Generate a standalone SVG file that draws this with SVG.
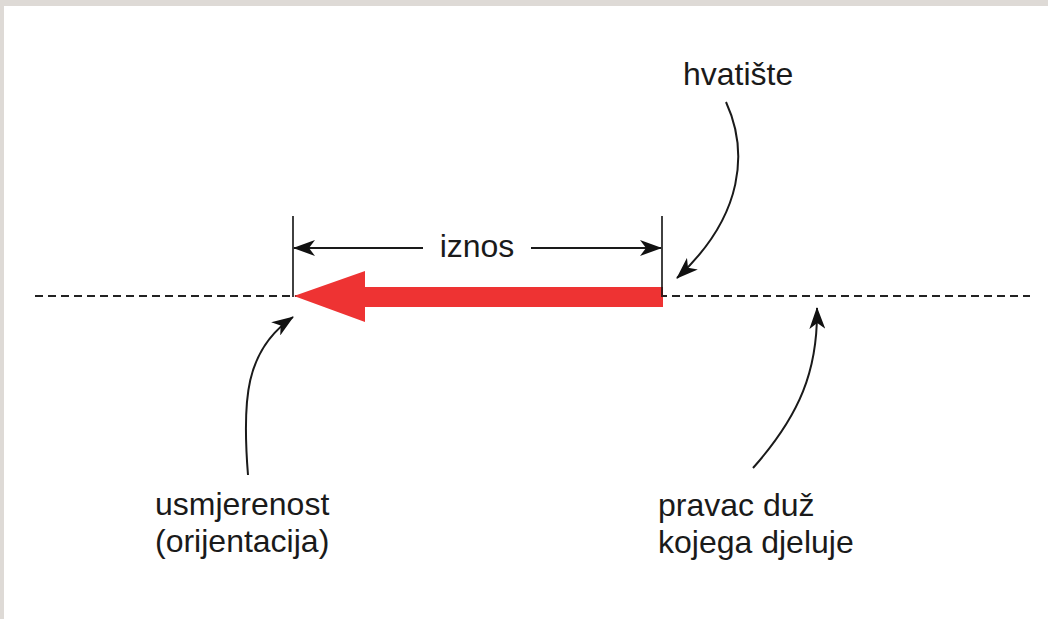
<svg xmlns="http://www.w3.org/2000/svg" width="1048" height="619" viewBox="0 0 1048 619">
<defs>
<style>
.t{font-family:"Liberation Sans",Arial,sans-serif;font-size:32px;fill:#1a1a1a}
.c{fill:none;stroke:#1a1a1a;stroke-width:2}
</style>
<marker id="ah" viewBox="0 0 22 16" refX="21" refY="8" markerWidth="22" markerHeight="16" markerUnits="userSpaceOnUse" orient="auto">
<path d="M0,0 L22,8 L0,16 L6,8 Z" fill="#111"/>
</marker>
</defs>
<rect x="0" y="0" width="1048" height="619" fill="#dedad6"/>
<rect x="4" y="6" width="1044" height="613" fill="#fff"/>
<g id="line-of-action">
<line x1="35" y1="296" x2="1030" y2="296" stroke="#222" stroke-width="1.8" stroke-dasharray="8,5"/>
</g>
<g id="force-vector">
<polygon points="294,296 365,271 365,287 663,287 663,307 365,307 365,322" fill="#ee3333"/>
</g>
<g id="dimension">
<line x1="293" y1="216" x2="293" y2="297" stroke="#111" stroke-width="1.6"/>
<line x1="662" y1="216" x2="662" y2="297" stroke="#111" stroke-width="1.6"/>
<line x1="423" y1="248" x2="294" y2="248" class="c" marker-end="url(#ah)"/>
<line x1="531" y1="248" x2="661" y2="248" class="c" marker-end="url(#ah)"/>
<text class="t" x="477" y="257" text-anchor="middle">iznos</text>
</g>
<g id="connectors">
<path class="c" d="M726,102 C748,150 745,215 677,278" marker-end="url(#ah)"/>
<path class="c" d="M248,475 C242,400 245,350 293,317" marker-end="url(#ah)"/>
<path class="c" d="M753,468 C800,415 818,370 817,308" marker-end="url(#ah)"/>
</g>
<g id="label-hvatiste"><text class="t" x="683" y="85">hvatište</text></g>
<g id="label-usmjerenost">
<text class="t" x="155" y="515">usmjerenost</text>
<text class="t" x="155" y="552">(orijentacija)</text>
</g>
<g id="label-pravac">
<text class="t" x="658" y="516">pravac duž</text>
<text class="t" x="658" y="553">kojega djeluje</text>
</g>
</svg>
